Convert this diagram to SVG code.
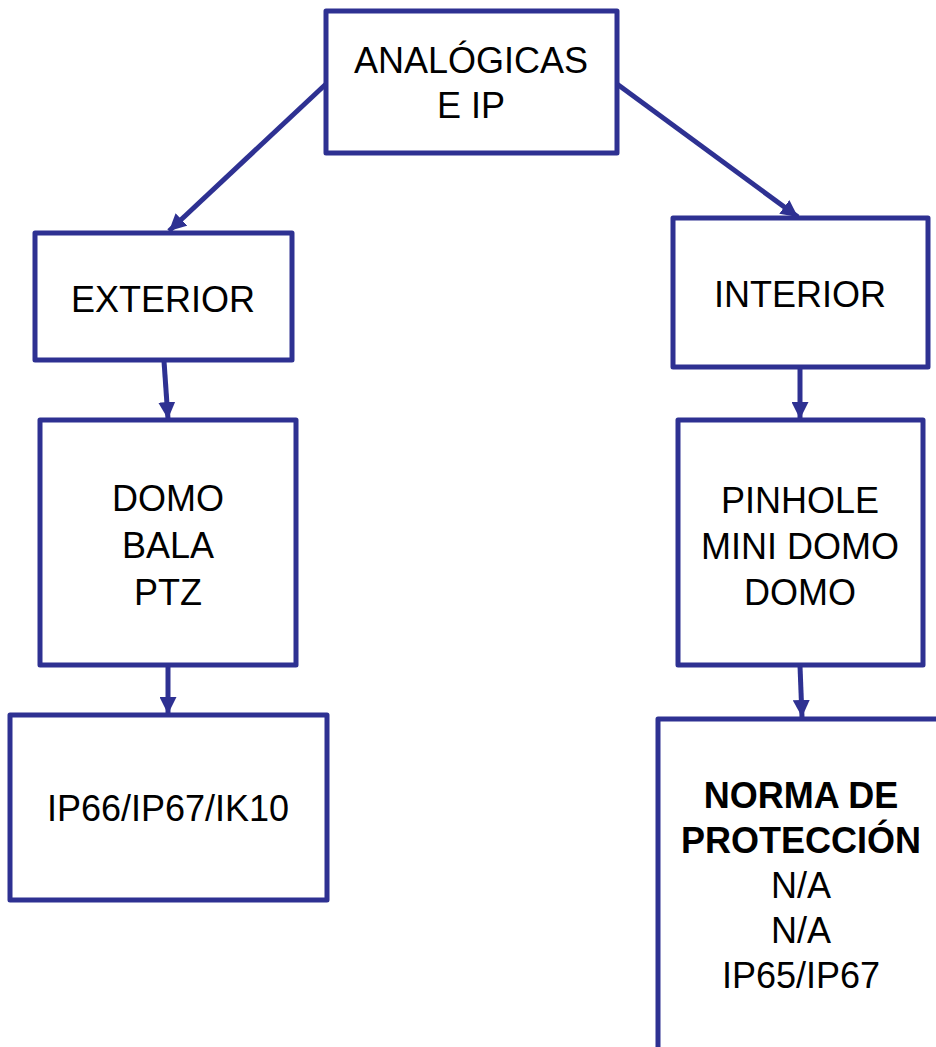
<svg xmlns="http://www.w3.org/2000/svg" width="936" height="1047" viewBox="0 0 936 1047">
<style>
.box{fill:#fff;stroke:#2E3192;stroke-width:5;stroke-linejoin:round}
.t{font-family:"Liberation Sans",Arial,sans-serif;font-size:36px;fill:#000;text-anchor:middle}
.b{font-weight:bold}
.c{stroke:#2E3192;stroke-width:5;fill:none}
</style>
<defs>
<marker id="ah" viewBox="0 0 10 10" refX="10" refY="5" markerWidth="3.4" markerHeight="3.4" orient="auto" markerUnits="strokeWidth">
<path d="M0,0 L10,5 L0,10 z" fill="#2E3192"/>
</marker>
</defs>
<rect width="936" height="1047" fill="#fff"/>
<g id="connectors">
<line class="c" x1="326" y1="84" x2="169" y2="231" marker-end="url(#ah)"/>
<line class="c" x1="617" y1="84" x2="798" y2="217" marker-end="url(#ah)"/>
<line class="c" x1="164" y1="361" x2="168" y2="419" marker-end="url(#ah)"/>
<line class="c" x1="168" y1="666" x2="168" y2="714" marker-end="url(#ah)"/>
<line class="c" x1="800" y1="368" x2="800" y2="419" marker-end="url(#ah)"/>
<line class="c" x1="800" y1="666" x2="802" y2="717" marker-end="url(#ah)"/>
</g>
<g id="n-analogicas">
<rect class="box" x="326" y="11" width="291" height="142"/>
<text class="t" x="471" y="73">ANALÓGICAS</text>
<text class="t" x="471" y="118">E IP</text>
</g>
<g id="n-exterior">
<rect class="box" x="35" y="233" width="257" height="127"/>
<text class="t" x="163" y="312">EXTERIOR</text>
</g>
<g id="n-interior">
<rect class="box" x="673" y="218" width="255" height="149"/>
<text class="t" x="800" y="307">INTERIOR</text>
</g>
<g id="n-domo">
<rect class="box" x="40" y="420" width="256" height="245"/>
<text class="t" x="168" y="511">DOMO</text>
<text class="t" x="168" y="558">BALA</text>
<text class="t" x="168" y="605">PTZ</text>
</g>
<g id="n-pinhole">
<rect class="box" x="678" y="420" width="245" height="245"/>
<text class="t" x="800" y="513">PINHOLE</text>
<text class="t" x="800" y="559">MINI DOMO</text>
<text class="t" x="800" y="605">DOMO</text>
</g>
<g id="n-ip66">
<rect class="box" x="10" y="715" width="317" height="185"/>
<text class="t" x="168" y="821">IP66/IP67/IK10</text>
</g>
<g id="n-norma">
<rect class="box" x="658" y="719" width="300" height="350"/>
<text class="t b" x="801" y="808">NORMA DE</text>
<text class="t b" x="801" y="853">PROTECCIÓN</text>
<text class="t" x="801" y="898">N/A</text>
<text class="t" x="801" y="943">N/A</text>
<text class="t" x="801" y="988">IP65/IP67</text>
</g>
</svg>
